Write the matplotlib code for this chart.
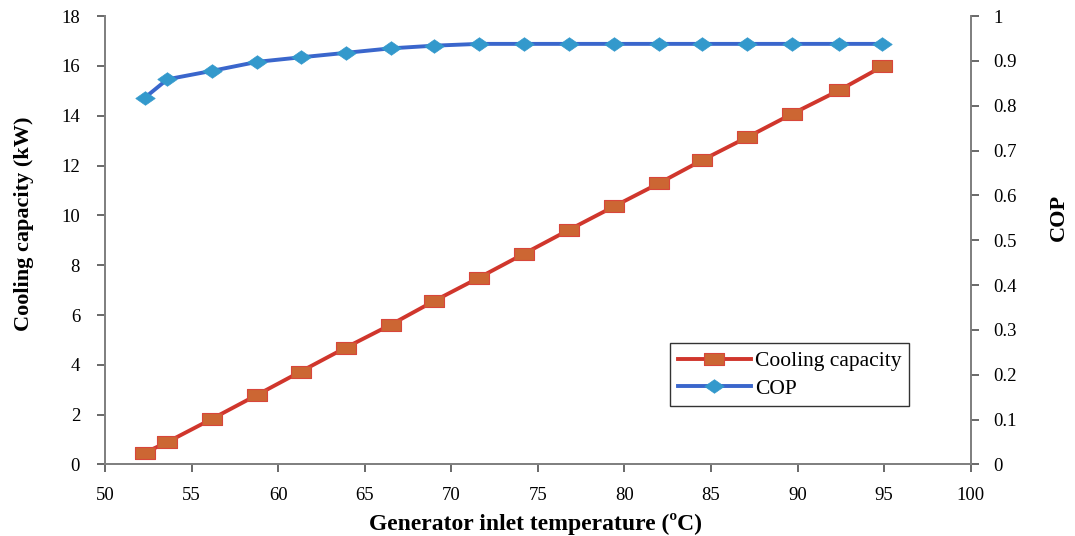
import matplotlib
matplotlib.use("Agg")
import matplotlib.pyplot as plt

# Data
temperature = [52.3, 53.6, 56.2, 58.8, 61.3, 63.9, 66.5, 69.0, 71.6, 74.2,
               76.8, 79.4, 82.0, 84.5, 87.1, 89.7, 92.4, 94.9]
cooling_capacity = [0.47, 0.90, 1.84, 2.80, 3.73, 4.69, 5.61, 6.56, 7.50, 8.46,
                    9.42, 10.36, 11.29, 12.22, 13.14, 14.08, 15.02, 15.98]
cop = [0.818, 0.859, 0.878, 0.898, 0.908, 0.918, 0.928, 0.934, 0.938, 0.938,
       0.938, 0.938, 0.938, 0.938, 0.938, 0.938, 0.938, 0.938]

x_ticks = [50, 55, 60, 65, 70, 75, 80, 85, 90, 95, 100]
left_ticks = [0, 2, 4, 6, 8, 10, 12, 14, 16, 18]
right_ticks = [0, 0.1, 0.2, 0.3, 0.4, 0.5, 0.6, 0.7, 0.8, 0.9, 1]
right_tick_labels = ["0", "0.1", "0.2", "0.3", "0.4", "0.5", "0.6", "0.7", "0.8", "0.9", "1"]

plt.rcParams['font.family'] = ['Liberation Serif', 'DejaVu Serif']

fig = plt.figure(figsize=(10.75, 5.36), dpi=100)
ax = fig.add_axes([0.0977, 0.1334, 0.8053, 0.8366])
ax2 = ax.twinx()

spine_color = '#808080'
red_line = '#d0362c'
red_face = '#cc6633'
blue_line = '#3a66cc'
blue_face = '#3399cc'

# wide (stretched) marker shapes as in the reference
rect_marker = [(-1, -0.667), (1, -0.667), (1, 0.667), (-1, 0.667), (-1, -0.667)]
diamond_marker = [(-1, 0), (0, 0.7), (1, 0), (0, -0.7), (-1, 0)]

l1, = ax.plot(temperature, cooling_capacity, color=red_line, lw=2.8,
              marker=rect_marker, markersize=14, markerfacecolor=red_face,
              markeredgecolor='#d8463a', markeredgewidth=0.8,
              label='Cooling capacity', zorder=3)
l2, = ax2.plot(temperature, cop, color=blue_line, lw=2.8,
               marker=diamond_marker, markersize=14, markerfacecolor=blue_face,
               markeredgecolor=blue_face, markeredgewidth=0.5,
               label='COP', zorder=3)

ax.set_xlim(50, 100)
ax.set_ylim(0, 18)
ax2.set_ylim(0, 1)
ax.set_xticks(x_ticks)
ax.set_yticks(left_ticks)
ax2.set_yticks(right_ticks)
ax2.set_yticklabels(right_tick_labels)

for a in (ax, ax2):
    a.spines['top'].set_visible(False)
    for s in ('left', 'right', 'bottom'):
        a.spines[s].set_color(spine_color)
        a.spines[s].set_linewidth(1.3)
    a.tick_params(direction='out', length=6, width=1.1, color='#404040',
                  labelsize=13.5, labelcolor='black')
ax.tick_params(axis='y', pad=12)
ax.tick_params(axis='x', pad=10)
ax2.tick_params(axis='y', pad=10)

ax.set_xlabel('Generator inlet temperature (ºC)', fontsize=17, fontweight='bold')
ax.set_ylabel('Cooling capacity (kW)', fontsize=16, fontweight='bold')
ax2.set_ylabel('COP', fontsize=16, fontweight='bold')
ax.xaxis.set_label_coords(0.497, -0.108)
ax.yaxis.set_label_coords(-0.082, 0.536)
ax2.yaxis.set_label_coords(1.09, 0.552)

leg = ax.legend(handles=[l1, l2], loc='lower left', bbox_to_anchor=(0.653, 0.13),
                borderaxespad=0.0,
                fontsize=15.5, frameon=True, fancybox=False, edgecolor='black',
                handlelength=3.4, handletextpad=0.2, borderpad=0.35, labelspacing=0.35)
leg.get_frame().set_linewidth(1.0)
leg.set_zorder(10)

fig.savefig('out.png', dpi=100)
